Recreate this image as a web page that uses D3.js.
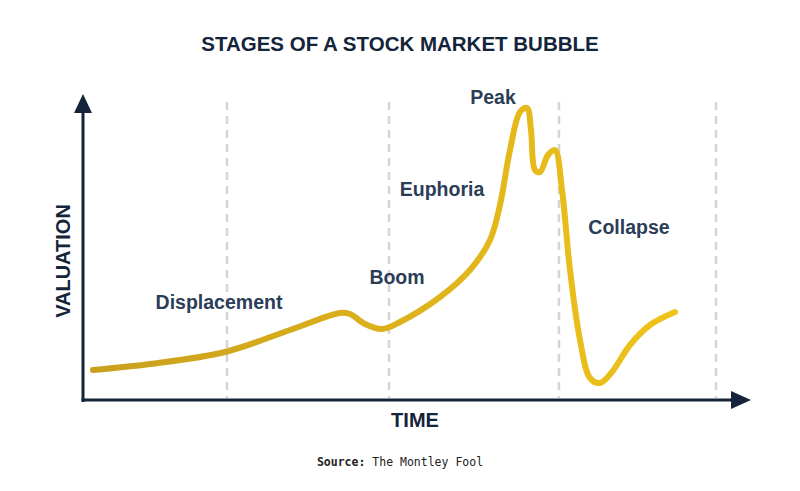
<!DOCTYPE html><html><head><meta charset="utf-8">
<script src="https://cdn.jsdelivr.net/npm/d3@7"></script>
<style>body{margin:0;background:#fff}</style></head><body><svg id="c" width="800" height="491"></svg>
<script>
const timeVals=[10,67,142,207,257,267,282,299,317,357,387,407,417,427,437,444,448,452,457,465,472,479,487,497,507,517,529,547,567,592];
const valuationVals=[30,36,48,70,87,86,76,71,78,103,130,160,195,250,288,292,270,230,228,245,250,210,130,60,22,17,28,55,75,88];
const dividers=[144,306,476,633];
const stages=[{t:136,v:91,label:"Displacement"},{t:314,v:116,label:"Boom"},{t:359,v:204,label:"Euphoria"},{t:410,v:296,label:"Peak"},{t:546,v:166,label:"Collapse"}];
const svg=d3.select("#c");
const x=d3.scaleLinear().domain([0,652]).range([83,735]);
const y=d3.scaleLinear().domain([0,300]).range([400,100]);
const navy="#14243a", txt="#2b3d57";
svg.append("text").attr("x",400).attr("y",51).attr("text-anchor","middle").attr("font-family","Liberation Sans, Arial").attr("font-weight","bold").attr("font-size",20.5).attr("fill",navy).text("STAGES OF A STOCK MARKET BUBBLE");
svg.selectAll(".d").data(dividers).enter().append("line").attr("x1",d=>x(d)).attr("x2",d=>x(d)).attr("y1",y(298)).attr("y2",y(2)).attr("stroke","#d4d4d4").attr("stroke-width",2.5).attr("stroke-dasharray","8,6");
const defs=svg.append("defs");
const g=defs.append("linearGradient").attr("id","gr").attr("gradientUnits","userSpaceOnUse").attr("x1",90).attr("x2",680).attr("y1",0).attr("y2",0);
g.append("stop").attr("offset","0").attr("stop-color","#c89f1e");
g.append("stop").attr("offset","1").attr("stop-color","#f0c31a");
const line=d3.line().x((d,i)=>x(timeVals[i])).y((d,i)=>y(valuationVals[i])).curve(d3.curveCatmullRom.alpha(0.5));
svg.append("path").attr("d",line(timeVals)).attr("fill","none").attr("stroke","url(#gr)").attr("stroke-width",6).attr("stroke-linecap","round").attr("stroke-linejoin","round");
svg.append("line").attr("x1",83).attr("x2",83).attr("y1",402).attr("y2",110).attr("stroke",navy).attr("stroke-width",3);
svg.append("line").attr("x1",81.5).attr("x2",735).attr("y1",400).attr("y2",400).attr("stroke",navy).attr("stroke-width",3);
svg.append("path").attr("d","M83,94 L74,113 L92,113 Z").attr("fill",navy);
svg.append("path").attr("d","M751,400 L731,391 L731,409 Z").attr("fill",navy);
svg.selectAll(".s").data(stages).enter().append("text").attr("x",d=>x(d.t)).attr("y",d=>y(d.v)).attr("text-anchor","middle").attr("font-family","Liberation Sans, Arial").attr("font-weight","bold").attr("font-size",19.5).attr("fill",txt).text(d=>d.label);
svg.append("text").attr("x",415).attr("y",427).attr("text-anchor","middle").attr("font-family","Liberation Sans, Arial").attr("font-weight","bold").attr("font-size",20).attr("fill",navy).text("TIME");
svg.append("text").attr("transform","translate(70,261) rotate(-90)").attr("text-anchor","middle").attr("font-family","Liberation Sans, Arial").attr("font-weight","bold").attr("font-size",20).attr("fill",navy).text("VALUATION");
const src=svg.append("text").attr("x",400).attr("y",466).attr("text-anchor","middle").attr("font-family","DejaVu Sans Mono, monospace").attr("font-size",11.5).attr("fill","#222");
src.append("tspan").attr("font-weight","bold").text("Source:");
src.append("tspan").text(" The Montley Fool");
</script></body></html>
